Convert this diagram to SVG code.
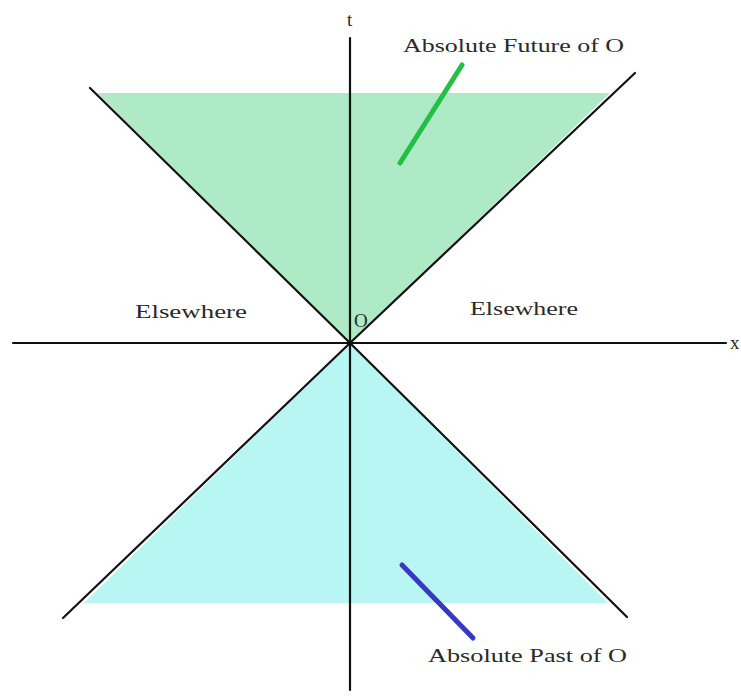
<svg xmlns="http://www.w3.org/2000/svg" width="741" height="696" viewBox="0 0 741 696">
<style>
.ax{stroke:#111;stroke-width:2.2;fill:none;stroke-linecap:round}
.lbl{font-family:"Liberation Serif","DejaVu Serif",serif;font-size:19px;fill:#2a2a2a}
</style>
<rect width="741" height="696" fill="#fff"/>
<g id="future-region">
<polygon points="97,93 610,93 350,343" fill="#aeeac6"/>
</g>
<g id="past-region">
<polygon points="84,603 608,603 350,343" fill="#b8f6f3"/>
</g>
<g id="connectors">
<line class="ax" x1="13" y1="343" x2="726" y2="343"/>
<line class="ax" x1="350" y1="38" x2="350" y2="690"/>
<line class="ax" x1="90" y1="88" x2="350" y2="343"/>
<line class="ax" x1="635" y1="73" x2="350" y2="343"/>
<line class="ax" x1="63" y1="618" x2="350" y2="343"/>
<line class="ax" x1="627" y1="617" x2="350" y2="343"/>
<line x1="462" y1="65" x2="400" y2="163" stroke="#22c044" stroke-width="5" stroke-linecap="round"/>
<line x1="402" y1="565" x2="473" y2="638" stroke="#3838c0" stroke-width="5" stroke-linecap="round"/>
</g>
<g id="label-t"><text class="lbl" x="347" y="26">t</text></g>
<g id="label-x"><text class="lbl" x="730" y="349">x</text></g>
<g id="label-O"><text class="lbl" x="354" y="327">O</text></g>
<g id="label-future"><text class="lbl" x="403" y="52" textLength="221" lengthAdjust="spacingAndGlyphs">Absolute Future of O</text></g>
<g id="label-past"><text class="lbl" x="428" y="662" textLength="199" lengthAdjust="spacingAndGlyphs">Absolute Past of O</text></g>
<g id="label-else-left"><text class="lbl" x="135" y="318" textLength="112" lengthAdjust="spacingAndGlyphs">Elsewhere</text></g>
<g id="label-else-right"><text class="lbl" x="470" y="315" textLength="108" lengthAdjust="spacingAndGlyphs">Elsewhere</text></g>
</svg>
